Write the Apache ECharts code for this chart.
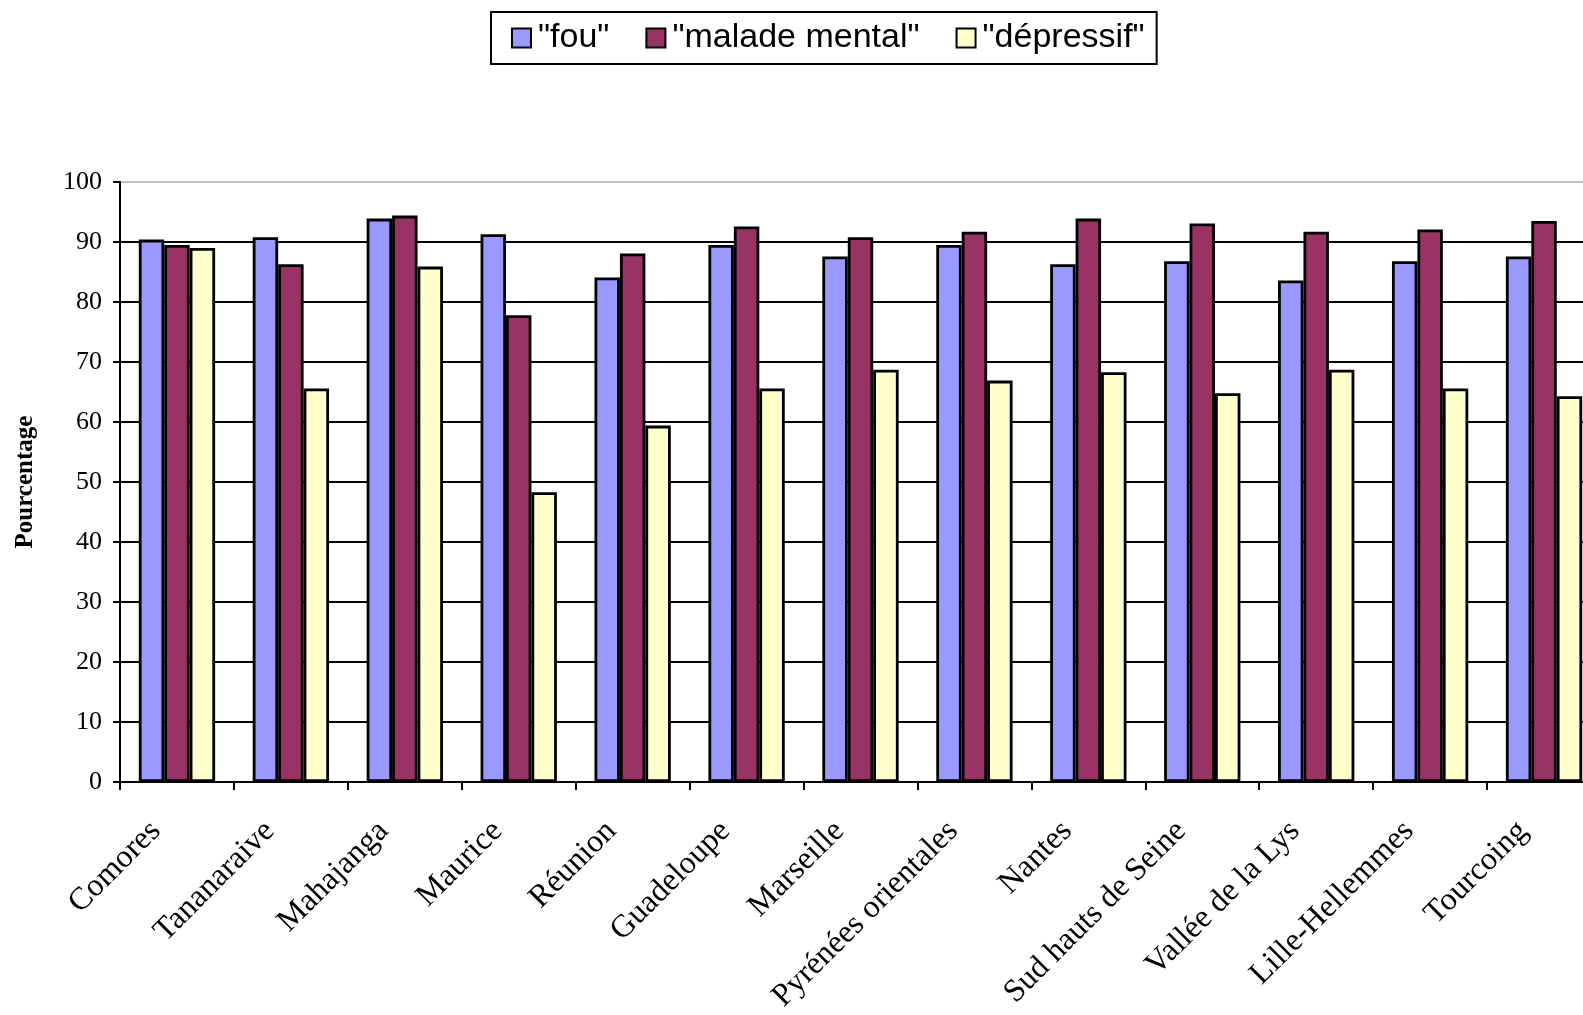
<!DOCTYPE html>
<html>
<head>
<meta charset="utf-8">
<title>Pourcentage par site</title>
<script src="https://cdn.jsdelivr.net/npm/echarts@6/dist/echarts.min.js"></script>
<style>
  html, body { margin: 0; padding: 0; background: #ffffff; overflow: hidden; }
  /* the plot runs slightly past the right edge of the page */
  #chart { width: 1601px; height: 1015px; }
</style>
</head>
<body>
<div id="chart"></div>
<script>
// Sites surveyed
const categories = [
  'Comores', 'Tananaraive', 'Mahajanga', 'Maurice', 'Réunion', 'Guadeloupe',
  'Marseille', 'Pyrénées orientales', 'Nantes', 'Sud hauts de Seine',
  'Vallée de la Lys', 'Lille-Hellemmes', 'Tourcoing'
];

// Series names
const seriesNames = ['"fou"', '"malade mental"', '"dépressif"'];

// Percentages per site
const fouValues = [90.4, 90.8, 93.9, 91.3, 84.1, 89.5, 87.6, 89.5, 86.3, 86.8, 83.6, 86.8, 87.6];
const maladeMentalValues = [89.5, 86.3, 94.4, 77.8, 88.1, 92.6, 90.8, 91.7, 93.9, 93.1, 91.7, 92.1, 93.5];
const depressifValues = [89.0, 65.6, 85.9, 48.3, 59.4, 65.6, 68.7, 66.9, 68.3, 64.8, 68.7, 65.6, 64.3];

const seriesColors = ['#9999ff', '#993366', '#ffffcc'];

const chart = echarts.init(document.getElementById('chart'), null, { renderer: 'canvas' });

function barSeries(name, data, color) {
  return {
    name: name,
    type: 'bar',
    data: data,
    barGap: '0%',
    barCategoryGap: '33%',
    itemStyle: { color: color, borderColor: '#000000', borderWidth: 2.8 },
    emphasis: { disabled: true },
    animation: false
  };
}

chart.setOption({
  backgroundColor: '#ffffff',
  animation: false,
  legend: {
    left: 491,
    top: 12,
    orient: 'horizontal',
    data: seriesNames,
    icon: 'rect',
    itemWidth: 19,
    itemHeight: 19,
    itemGap: 36,
    padding: [9, 12, 9, 20],
    borderColor: '#000000',
    borderWidth: 2,
    itemStyle: { borderColor: '#000000', borderWidth: 2 },
    textStyle: {
      fontFamily: 'Liberation Sans, Arial, sans-serif',
      fontSize: 34,
      color: '#000000',
      padding: [0, 0, 0, 2]
    },
    selectedMode: false
  },
  grid: {
    left: 120,
    top: 182,
    width: 1481,
    bottom: 225,
    containLabel: false
  },
  xAxis: {
    type: 'category',
    data: categories,
    boundaryGap: true,
    axisLine: { show: true, lineStyle: { color: '#000000', width: 2 } },
    axisTick: { show: true, length: 8, interval: 0, lineStyle: { color: '#000000', width: 2 } },
    axisLabel: {
      interval: 0,
      rotate: 45,
      margin: 23,
      padding: [0, 30, 0, 0],
      hideOverlap: false,
      fontFamily: 'Liberation Serif, Times New Roman, serif',
      fontSize: 32,
      color: '#000000'
    },
    splitLine: { show: false }
  },
  yAxis: {
    type: 'value',
    min: 0,
    max: 100,
    interval: 10,
    name: 'Pourcentage',
    nameLocation: 'middle',
    nameRotate: 90,
    nameGap: 82,
    nameTextStyle: {
      fontFamily: 'Liberation Serif, Times New Roman, serif',
      fontWeight: 'bold',
      fontSize: 25,
      color: '#000000'
    },
    axisLine: { show: true, lineStyle: { color: '#000000', width: 2 } },
    axisTick: { show: true, length: 7, lineStyle: { color: '#000000', width: 2 } },
    axisLabel: {
      margin: 18,
      fontFamily: 'Liberation Serif, Times New Roman, serif',
      fontSize: 26,
      color: '#000000'
    },
    splitLine: {
      show: true,
      lineStyle: {
        color: ['#000000', '#000000', '#000000', '#000000', '#000000', '#000000',
                '#000000', '#000000', '#000000', '#000000', '#c0c0c0'],
        width: 2
      }
    }
  },
  series: [
    barSeries(seriesNames[0], fouValues, seriesColors[0]),
    barSeries(seriesNames[1], maladeMentalValues, seriesColors[1]),
    barSeries(seriesNames[2], depressifValues, seriesColors[2])
  ]
});
</script>
</body>
</html>
